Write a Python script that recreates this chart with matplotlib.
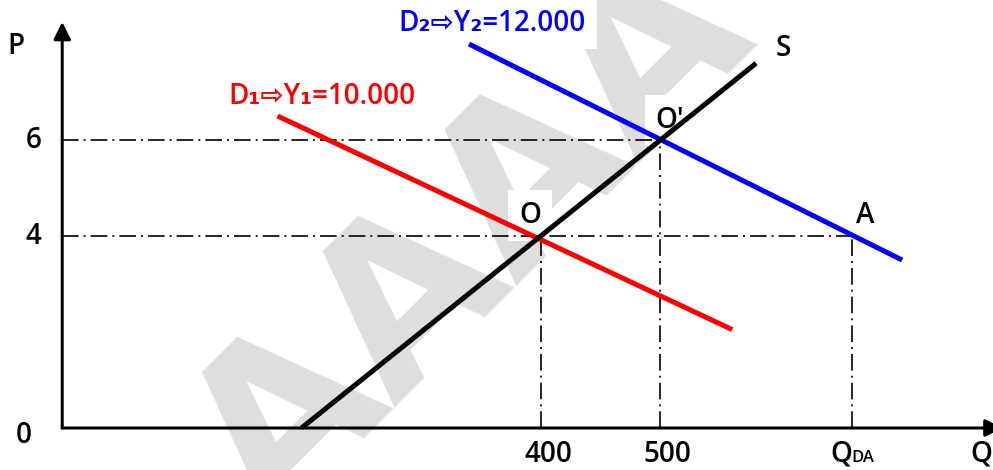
import matplotlib.pyplot as plt

# Supply and demand curves (Q, P)
q_supply = [200, 580]
p_supply = [0, 7.6]
q_d1 = [180, 560]
p_d1 = [6.5, 2.05]
q_d2 = [340, 702]
p_d2 = [8.0, 3.5]

# Equilibrium / reference points
q_O, p_O = 400, 4
q_O2, p_O2 = 500, 6
q_A, p_A = 660, 4

p_ticks = [4, 6]
p_tick_labels = ['4', '6']
q_ticks = [400, 500]
q_tick_labels = ['400', '500']

d1_label = 'D\u2081\u21e8Y\u2081=10.000'
d2_label = 'D\u2082\u21e8Y\u2082=12.000'

FAM = ['Open Sans', 'DejaVu Sans']
FS = 20

fig = plt.figure(figsize=(9.93, 4.70), dpi=100)
ax = fig.add_axes([0, 0, 1, 1])
ax.set_xlim(-52, 778)
ax.set_ylim(-0.875, 8.917)
ax.axis('off')

# watermark
ax.text(343, 3.9, 'AAAA', fontsize=160, fontweight='bold', color='#dedede',
        rotation=45, rotation_mode='anchor', ha='center', va='center', zorder=0)

# axes with arrows
arr = dict(arrowstyle='-|>', lw=2.2, color='k', mutation_scale=26, shrinkA=0, shrinkB=0)
ax.annotate('', xy=(0, 8.46), xytext=(0, 0), arrowprops=arr,
            annotation_clip=False, zorder=3)
ax.annotate('', xy=(786, 0), xytext=(0, 0), arrowprops=arr,
            annotation_clip=False, zorder=3)

# dash-dot guides
dd = dict(color='k', lw=1.2, dashes=(10, 3, 1.2, 3), zorder=2)
ax.plot([0, q_O2], [p_O2, p_O2], **dd)
ax.plot([0, q_A], [p_A, p_A], **dd)
ax.plot([q_O, q_O], [0, p_O], **dd)
ax.plot([q_O2, q_O2], [0, p_O2], **dd)
ax.plot([q_A, q_A], [0, p_A], **dd)

# curves
ax.plot(q_d1, p_d1, color='#ff0000', lw=3.6, solid_capstyle='butt', zorder=4)
ax.plot(q_d2, p_d2, color='#0000ff', lw=3.6, solid_capstyle='butt', zorder=4)
ax.plot(q_supply, p_supply, color='k', lw=3.6, solid_capstyle='butt', zorder=5)

tk = dict(fontsize=FS, fontweight='semibold', family=FAM, color='k')
wb = dict(facecolor='white', edgecolor='none', pad=8)

# axis labels and ticks
ax.text(-39, 7.94, 'P', ha='center', va='center', **tk)
ax.text(-32, -0.15, '0', ha='center', va='center', **tk)
for p, lab in zip(p_ticks, p_tick_labels):
    ax.text(-24, p, lab, ha='center', va='center', **tk)
yb = -0.7
for q, lab in zip(q_ticks, q_tick_labels):
    ax.text(q + 6, yb, lab, ha='center', va='baseline', **tk)
ax.text(q_A, yb, 'Q', ha='right', va='baseline', **tk)
ax.text(q_A, yb, 'DA', ha='left', va='baseline', fontsize=12,
        fontweight='semibold', family=FAM, color='k')
ax.text(759, yb, 'Q', ha='left', va='baseline', **tk)

# point labels
ax.text(391, 4.42, 'O', ha='center', va='center', bbox=wb, zorder=1, **tk)
ax.text(508, 6.4, 'O\u2032', ha='center', va='center', bbox=wb, zorder=1, **tk)
ax.text(671, 4.42, 'A', ha='center', va='center', **tk)
ax.text(603, 7.9, 'S', ha='center', va='center', bbox=wb, zorder=1, **tk)

# demand labels
ax.text(139, 6.9, d1_label, ha='left', va='center', fontsize=FS,
        fontweight='semibold', family=FAM, color='#ff0000')
ax.text(281, 8.42, d2_label, ha='left', va='center', fontsize=FS,
        fontweight='semibold', family=FAM, color='#0000ff',
        bbox=dict(facecolor='white', edgecolor='none', pad=8), zorder=1)

fig.savefig('out.png', dpi=100)
